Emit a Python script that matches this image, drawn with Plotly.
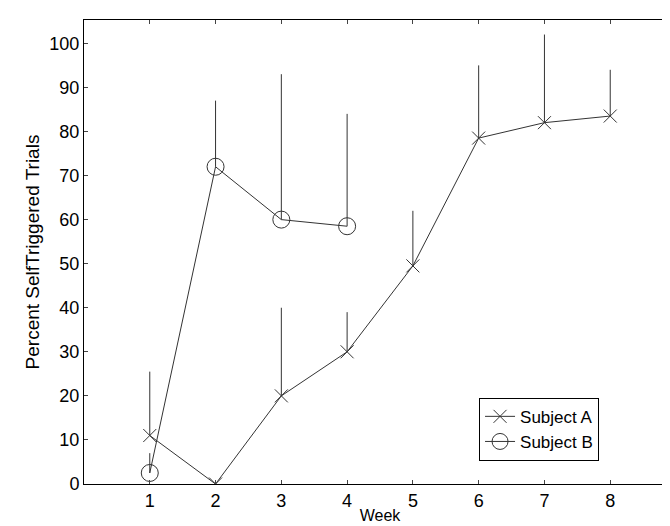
import plotly.graph_objects as go

weeks_a = [1, 2, 3, 4, 5, 6, 7, 8]
subj_a = [11, 0, 20, 30, 49.5, 78.5, 82, 83.5]
err_a = [14.5, 0, 20, 9, 12.5, 16.5, 20, 10.5]

weeks_b = [1, 2, 3, 4]
subj_b = [2.5, 72, 60, 58.5]
err_b = [4.5, 15, 33, 25.5]

fig = go.Figure()
fig.add_trace(go.Scatter(
    x=weeks_a, y=subj_a, name="Subject A", mode="lines+markers",
    line=dict(color="#333", width=1),
    marker=dict(symbol="x-thin-open", size=13, line=dict(color="#333", width=1)),
    error_y=dict(type="data", symmetric=False, array=err_a, arrayminus=[0]*8,
                 color="#333", thickness=1, width=0),
))
fig.add_trace(go.Scatter(
    x=weeks_b, y=subj_b, name="Subject B", mode="lines+markers",
    line=dict(color="#333", width=1),
    marker=dict(symbol="circle-open", size=17, line=dict(color="#333", width=1)),
    error_y=dict(type="data", symmetric=False, array=err_b, arrayminus=[0]*4,
                 color="#333", thickness=1, width=0),
))

fig.update_layout(
    width=670, height=526,
    margin=dict(l=76, r=2, t=12, b=50),
    plot_bgcolor="white", paper_bgcolor="white",
    font=dict(family="Liberation Sans, Arial", size=16, color="black"),
    legend=dict(x=0.87, y=0.05, xanchor="right", yanchor="bottom",
                bordercolor="black", borderwidth=1, font=dict(size=17)),
    showlegend=True,
)
fig.update_xaxes(range=[0, 9], tickvals=weeks_a, title=dict(text="Week", standoff=0, font=dict(size=16)),
                 showgrid=False, zeroline=False, showline=True, linecolor="black",
                 mirror="ticks", ticks="inside", ticklen=4, tickfont=dict(size=18))
fig.update_yaxes(range=[0, 105.3], dtick=10, title=dict(text="Percent SelfTriggered Trials", standoff=4),
                 showgrid=False, zeroline=False, showline=True, linecolor="black",
                 mirror="ticks", ticks="inside", ticklen=4, tickfont=dict(size=18))

fig.write_html("out.html")
